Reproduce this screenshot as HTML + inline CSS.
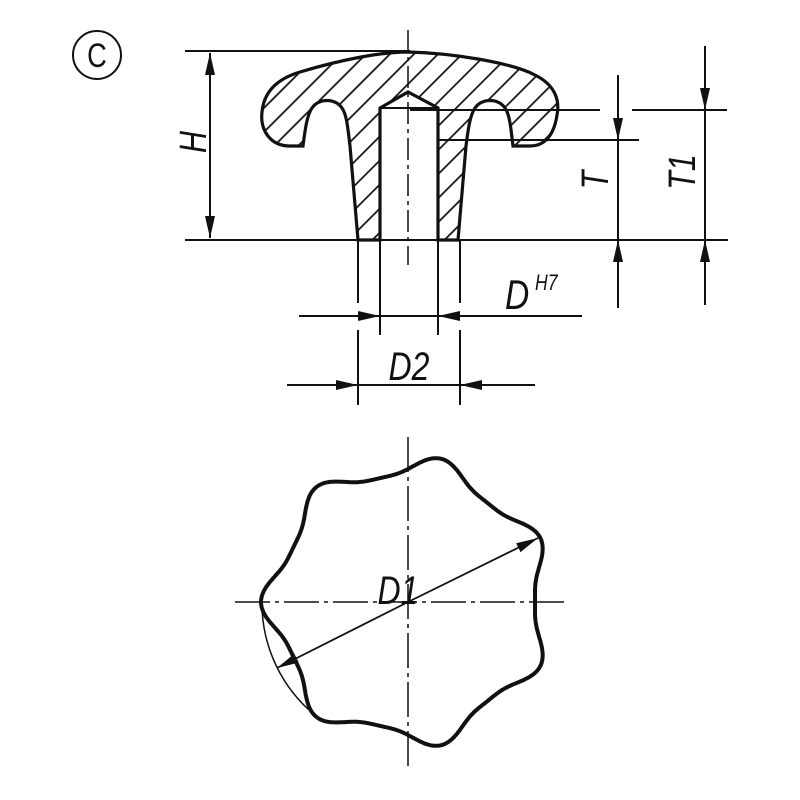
<!DOCTYPE html>
<html><head><meta charset="utf-8"><style>
html,body{margin:0;padding:0;background:#fff;}
svg{display:block;}
text{font-family:"Liberation Sans",sans-serif;font-style:italic;fill:#111;}
</style></head><body>
<svg width="800" height="800" viewBox="0 0 800 800" xmlns="http://www.w3.org/2000/svg">
<defs>
<pattern id="h" patternUnits="userSpaceOnUse" width="17" height="17" patternTransform="rotate(-45)">
<line x1="0" y1="8" x2="17" y2="8" stroke="#111" stroke-width="1.7"/>
</pattern>
<marker id="a" viewBox="0 0 22 10" refX="22" refY="5" markerWidth="22" markerHeight="10" markerUnits="userSpaceOnUse" orient="auto">
<path d="M0,0 L22,5 L0,10 Z" fill="#111"/>
</marker>
</defs>
<g stroke="#111" fill="none">
<circle cx="97" cy="55" r="24" stroke-width="2"/>
<text transform="translate(97,67) scale(0.8,1)" font-size="34" text-anchor="middle" stroke="none" style="font-style:normal">C</text>

<path d="M290,146 C270,146 260,130 262,112 C264,90 280,78 300,72 C340,60 380,52 408,52 C450,53 510,62 535,75 C555,85 560,100 557,115 C554,135 545,146 530,146 L513,146 C511,130 510,115 505,108 C498,98 482,98 475,108 C470,115 468,130 466,146 L458,240 L438,240 L438,108 L408,92 L380,108 L380,240 L358,240 L350,146 C348,130 347,115 342,108 C335,98 319,98 312,108 C307,115 305,130 303,146 Z" fill="url(#h)" stroke-width="3.2"/>
<line x1="380" y1="108" x2="438" y2="108" stroke-width="2"/>

<line x1="408" y1="30" x2="408" y2="265" stroke-width="1.5" stroke-dasharray="22,5,4,5"/>

<line x1="185" y1="51" x2="410" y2="51" stroke-width="2"/>
<line x1="185" y1="240" x2="728" y2="240" stroke-width="2"/>
<line x1="210" y1="140" x2="210" y2="53" stroke-width="2" marker-end="url(#a)"/>
<line x1="210" y1="140" x2="210" y2="238" stroke-width="2" marker-end="url(#a)"/>
<text transform="translate(206,142) rotate(-90) scale(0.8,1)" font-size="38" text-anchor="middle" stroke="none">H</text>

<line x1="410" y1="110" x2="600" y2="110" stroke-width="2"/>
<line x1="632" y1="110" x2="727" y2="110" stroke-width="2"/>
<line x1="438" y1="140" x2="639" y2="140" stroke-width="2"/>
<line x1="618" y1="75" x2="618" y2="140" stroke-width="2" marker-end="url(#a)"/>
<line x1="618" y1="308" x2="618" y2="240" stroke-width="2" marker-end="url(#a)"/>
<line x1="618" y1="140" x2="618" y2="240" stroke-width="2"/>
<text transform="translate(608,180) rotate(-90) scale(0.8,1)" font-size="38" text-anchor="middle" stroke="none">T</text>
<line x1="705" y1="46" x2="705" y2="110" stroke-width="2" marker-end="url(#a)"/>
<line x1="705" y1="305" x2="705" y2="240" stroke-width="2" marker-end="url(#a)"/>
<line x1="705" y1="110" x2="705" y2="240" stroke-width="2"/>
<text transform="translate(695,172) rotate(-90) scale(0.8,1)" font-size="38" text-anchor="middle" stroke="none">T1</text>

<line x1="358" y1="240" x2="358" y2="303" stroke-width="2"/>
<line x1="358" y1="330" x2="358" y2="405" stroke-width="2"/>
<line x1="460" y1="240" x2="460" y2="303" stroke-width="2"/>
<line x1="460" y1="330" x2="460" y2="405" stroke-width="2"/>
<line x1="380" y1="240" x2="380" y2="335" stroke-width="2"/>
<line x1="438" y1="240" x2="438" y2="335" stroke-width="2"/>
<line x1="299" y1="316" x2="380" y2="316" stroke-width="2" marker-end="url(#a)"/>
<line x1="582" y1="316" x2="438" y2="316" stroke-width="2" marker-end="url(#a)"/>
<line x1="380" y1="316" x2="438" y2="316" stroke-width="2"/>
<text transform="translate(505,309) scale(0.8,1)" font-size="42" stroke="none">D</text>
<text transform="translate(535,290) scale(0.8,1)" font-size="22" stroke="none">H7</text>
<line x1="287" y1="385" x2="358" y2="385" stroke-width="2" marker-end="url(#a)"/>
<line x1="535" y1="385" x2="460" y2="385" stroke-width="2" marker-end="url(#a)"/>
<line x1="358" y1="385" x2="460" y2="385" stroke-width="2"/>
<text transform="translate(409,380) scale(0.8,1)" font-size="40" text-anchor="middle" stroke="none">D2</text>

<line x1="408" y1="437" x2="408" y2="768" stroke-width="1.5" stroke-dasharray="35,5,4,5"/>
<line x1="235" y1="602" x2="566" y2="602" stroke-width="1.5" stroke-dasharray="35,5,4,5"/>
<path id="star" stroke-width="4" d=""/>
<path d="M262,597 A146,146 0 0 0 309,710" stroke-width="1.5"/>
<line x1="408" y1="602" x2="538" y2="538" stroke-width="1.8" marker-end="url(#a)"/>
<line x1="408" y1="602" x2="277" y2="668" stroke-width="1.8" marker-end="url(#a)"/>
<text transform="translate(398,604) scale(0.8,1)" font-size="40" text-anchor="middle" stroke="none">D1</text>
</g>
<script>
(function(){var cx=408,cy=602,d="";for(var i=0;i<=720;i++){var t=i/720*2*Math.PI;var c=Math.cos(7*(t-Math.PI));var r=135+10*c+2*Math.cos(14*(t-Math.PI));var x=cx+r*Math.cos(t),y=cy+r*Math.sin(t);d+=(i?"L":"M")+x.toFixed(1)+","+y.toFixed(1);}document.getElementById("star").setAttribute("d",d+"Z");})();
</script>
</svg>
</body></html>
